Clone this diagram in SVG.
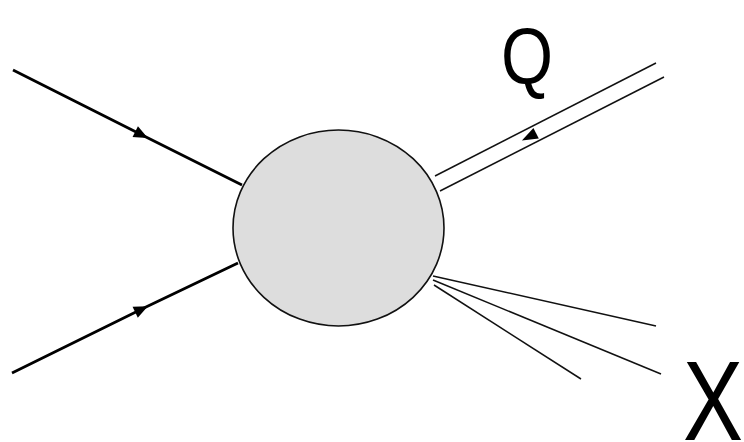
<svg xmlns="http://www.w3.org/2000/svg" width="744" height="442" viewBox="0 0 744 442">
<style>
.thick{fill:none;stroke:#000;stroke-width:2.8}
.thin{fill:none;stroke:#111;stroke-width:1.5}
.lbl{font-family:"Liberation Sans",Arial,sans-serif;fill:#000}
</style>
<defs>
<marker id="arr" markerUnits="userSpaceOnUse" markerWidth="20" markerHeight="20" refX="0" refY="0" viewBox="-16 -8 20 16" orient="auto">
<path d="M2,0 L-12,-6 L-12,6 Z" fill="#000"/>
</marker>
</defs>
<rect width="744" height="442" fill="#fff"/>
<g id="connectors">
<path class="thick" d="M13,70 L146,137 L242,185" marker-mid="url(#arr)"/>
<path class="thick" d="M12,373 L146,307 L238,263" marker-mid="url(#arr)"/>
<line class="thin" x1="435" y1="176" x2="656" y2="63"/>
<line class="thin" x1="440" y1="191" x2="664" y2="77"/>
<polygon points="521.9,140.4 538.8,138.5 533.4,127.9" fill="#000"/>
<line class="thin" x1="433" y1="276" x2="656" y2="326"/>
<line class="thin" x1="433" y1="280" x2="661" y2="374"/>
<line class="thin" x1="434" y1="285" x2="581" y2="379"/>
</g>
<g id="blob">
<ellipse cx="338.5" cy="228" rx="105.5" ry="98" fill="#dddddd" stroke="#111" stroke-width="1.6"/>
</g>
<g id="label-Q">
<text class="lbl" x="501" y="84" font-size="80" textLength="52" lengthAdjust="spacingAndGlyphs">Q</text>
</g>
<g id="label-X">
<text class="lbl" x="683" y="440" font-size="114" textLength="60" lengthAdjust="spacingAndGlyphs">X</text>
</g>
</svg>
